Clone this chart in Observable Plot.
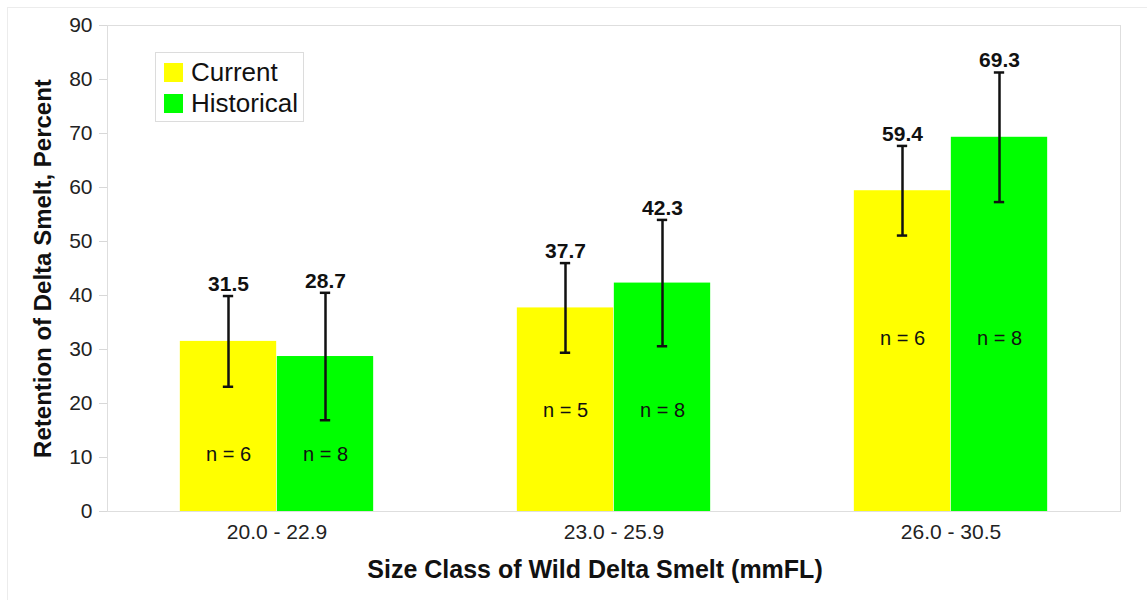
<!DOCTYPE html>
<html>
<head>
<meta charset="utf-8">
<script src="https://cdn.jsdelivr.net/npm/d3@7"></script>
<script src="https://cdn.jsdelivr.net/npm/@observablehq/plot@0.6"></script>
<style>
  html, body { margin: 0; padding: 0; background: #fff; }
  #wrap { position: relative; width: 1147px; height: 600px; font-family: "Liberation Sans", Arial, sans-serif; }
  #outer { position: absolute; left: 7px; top: 7px; right: -2px; bottom: -2px; border-left: 1px solid #ececec; border-top: 1px solid #ececec; }
  #legend { position: absolute; left: 155px; top: 52px; width: 149px; height: 70px; border: 1px solid #dcdcdc; background: #fff; box-sizing: border-box; padding: 4px 0 0 8px; }
  .item { display: flex; align-items: center; height: 31px; font-size: 26px; color: #111; }
  .sw { width: 19px; height: 19px; margin-right: 8px; }
  svg { position: absolute; left: 0; top: 0; }
</style>
</head>
<body>
<div id="wrap"><div id="outer"></div></div>
<script>
const categories = ["20.0 - 22.9", "23.0 - 25.9", "26.0 - 30.5"];
const series = ["Current", "Historical"];
const currentValues = [31.5, 37.7, 59.4];
const historicalValues = [28.7, 42.3, 69.3];
const currentErr = [8.4, 8.3, 8.3];
const historicalErr = [11.8, 11.7, 12.0];
const currentN = [6, 5, 6];
const historicalN = [8, 8, 8];
const nLabelAt = [10.6, 18.7, 32.0];
const yTicks = [0, 10, 20, 30, 40, 50, 60, 70, 80, 90];
const colors = {Current: "#ffff00", Historical: "#00ff00"};

const rows = [];
categories.forEach((c, i) => {
  rows.push({cat: c, series: "Current", value: currentValues[i], err: currentErr[i], n: currentN[i], nAt: nLabelAt[i]});
  rows.push({cat: c, series: "Historical", value: historicalValues[i], err: historicalErr[i], n: historicalN[i], nAt: nLabelAt[i]});
});

const W = 1147, H = 600;
const mL = 107, mR = 27, mT = 25, mB = 89;
const bw = (W - mL - mR) / categories.length;
const barW = 97;
const off = {Current: -barW / 2, Historical: barW / 2};
const ins = (bw - barW) / 2;
const capIns = (bw - 11) / 2;

const marks = [];
for (const s of series) {
  const d = rows.filter(r => r.series === s);
  marks.push(
    Plot.barY(d, {x: "cat", y: "value", fill: colors[s], dx: off[s], insetLeft: ins, insetRight: ins}),
    Plot.ruleX(d, {x: "cat", y1: r => r.value - r.err, y2: r => r.value + r.err, dx: off[s], stroke: "#111", strokeWidth: 2.5}),
    Plot.tickY(d, {x: "cat", y: r => r.value + r.err, dx: off[s], insetLeft: capIns, insetRight: capIns, stroke: "#111", strokeWidth: 2.5}),
    Plot.tickY(d, {x: "cat", y: r => r.value - r.err, dx: off[s], insetLeft: capIns, insetRight: capIns, stroke: "#111", strokeWidth: 2.5}),
    Plot.text(d, {x: "cat", y: r => r.value + r.err, text: r => r.value.toFixed(1), dx: off[s], dy: -5, lineAnchor: "bottom", fontWeight: "bold", fontSize: 21, fill: "#111"}),
    Plot.text(d, {x: "cat", y: "nAt", text: r => "n = " + r.n, dx: off[s], fontSize: 20, fill: "#111"})
  );
}

const chart = Plot.plot({
  width: W, height: H,
  marginLeft: mL, marginRight: mR, marginTop: mT, marginBottom: mB,
  style: {fontFamily: "Liberation Sans, Arial, sans-serif", background: "transparent"},
  x: {domain: categories, padding: 0, label: null},
  y: {domain: [0, 90], label: null},
  marks: [
    Plot.frame({stroke: "#dedede"}),
    ...marks,
    Plot.axisY({ticks: yTicks, tickSize: 8, tickPadding: 7, fontSize: 21, stroke: "#d8d8d8", fill: "#222", label: null}),
    Plot.axisX({tickSize: 0, tickPadding: 13, fontSize: 21, fill: "#222", label: null}),
    Plot.text(["Retention of Delta Smelt, Percent"], {frameAnchor: "left", textAnchor: "middle", rotate: -90, dx: -64, fontSize: 24, fontWeight: "bold", fill: "#111"}),
    Plot.text(["Size Class of Wild Delta Smelt (mmFL)"], {frameAnchor: "bottom", dx: -19, dy: 66, fontSize: 25, fontWeight: "bold", fill: "#111"})
  ]
});

const wrap = document.getElementById("wrap");
wrap.appendChild(chart);
const legend = document.createElement("div");
legend.id = "legend";
for (const s of series) {
  const it = document.createElement("div");
  it.className = "item";
  const sw = document.createElement("span");
  sw.className = "sw";
  sw.style.background = colors[s];
  const t = document.createElement("span");
  t.textContent = s;
  it.appendChild(sw); it.appendChild(t);
  legend.appendChild(it);
}
wrap.appendChild(legend);
</script>
</body>
</html>
